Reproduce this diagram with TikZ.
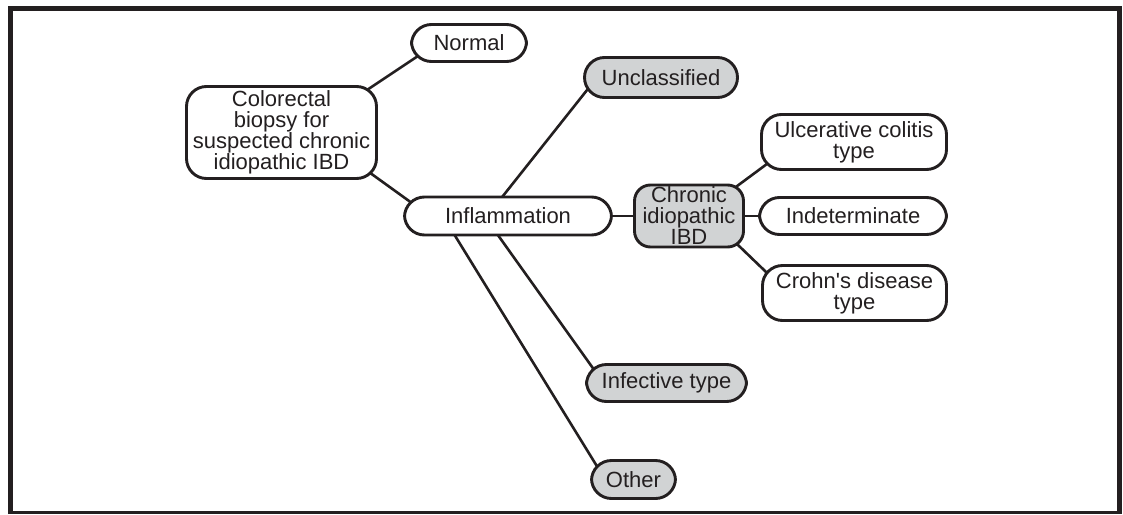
\documentclass[tikz,border=0pt]{standalone}
\usepackage{fontspec}
\setmainfont{Liberation Sans}
\newfontfamily\aposfont{Liberation Sans}
\usetikzlibrary{calc,backgrounds}
\definecolor{ink}{HTML}{231F20}
\definecolor{boxgray}{HTML}{D1D3D4}
\begin{document}
\begin{tikzpicture}[x=1pt,y=-1pt,
  box/.style={draw=ink, line width=2.9pt, fill=white, rounded corners=20pt, inner sep=0pt, align=center, text=ink, font=\fontsize{22}{21}\selectfont},
  gbox/.style={box, fill=boxgray},
  link/.style={draw=ink, line width=2.6pt},
  frame/.style={draw=ink, line width=5pt}]
\useasboundingbox (0,0) rectangle (1123,514);
% frame
\draw[frame] (10.5,514) -- (10.5,8.5) -- (1119.5,8.5) -- (1119.5,514);
\draw[draw=ink, line width=2.5pt] (8,512.7) -- (1122,512.7);
% nodes
\node[box, minimum width=190pt, minimum height=92pt] (col) at (281.5,132.5) {Colorectal\\biopsy for\\suspected chronic\\idiopathic IBD};
\node[box, minimum width=115pt, minimum height=37pt] (normal) at (469,43) {Normal};
\node[box, minimum width=207pt, minimum height=38pt] (infl) at (508,216) {Inflammation};
\node[gbox, minimum width=153pt, minimum height=40pt] (uncl) at (661,77.5) {Unclassified};
\node[gbox, rounded corners=16pt, minimum width=109pt, minimum height=62pt] (cibd) at (689,216) {Chronic\\idiopathic\\IBD};
\node[box, minimum width=185pt, minimum height=55pt] (uc) at (854,142) {Ulcerative colitis\\type};
\node[box, minimum width=187pt, minimum height=37pt] (ind) at (853,216) {Indeterminate};
\node[box, minimum width=184pt, minimum height=55pt] (cd) at (854.5,293) {Crohn{\aposfont'}s disease\\type};
\node[gbox, minimum width=160pt, minimum height=37pt] (inf) at (666.5,383) {Infective type};
\node[gbox, minimum width=84pt, minimum height=38pt] (other) at (633.5,479.5) {Other};
% connectors
\begin{scope}[on background layer]
\draw[link] ($(col)+(73.5,-34.5)$) -- ($(normal)+(-39,5)$);
\draw[link] ($(col)+(73.5,29.5)$) -- ($(infl)+(-83,-3.5)$);
\draw[link] ($(infl)+(-13,-10)$) -- ($(uncl)+(-66,2.5)$);
\draw[link] (infl.center) -- (cibd.center);
\draw[link] ($(infl)+(-13.7,14)$) -- ($(inf)+(-68.7,-8)$);
\draw[link] ($(infl)+(-56.5,14)$) -- ($(other)+(-33,-7.5)$);
\draw[link] ($(cibd)+(36,-21)$) -- ($(uc)+(-79,16)$);
\draw[link] (cibd.center) -- (ind.center);
\draw[link] ($(cibd)+(36,16.5)$) -- ($(cd)+(-79.5,-12.4)$);
\end{scope}
\end{tikzpicture}
\end{document}
